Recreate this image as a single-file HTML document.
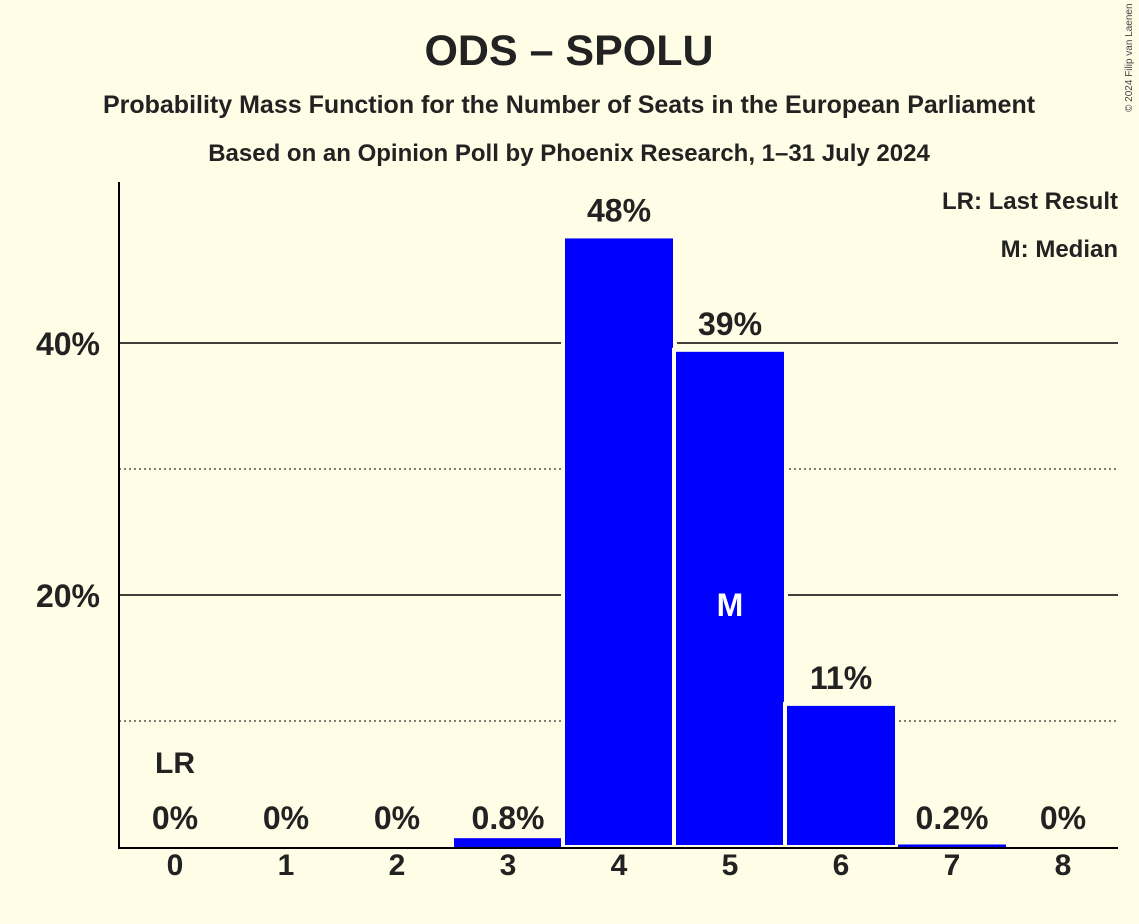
<!DOCTYPE html>
<html><head><meta charset="utf-8"><style>
body{margin:0;background:#fffde6;}
svg{display:block;font-family:"Liberation Sans",sans-serif;font-weight:bold;}
</style></head><body>
<svg id="c" width="1139" height="924" viewBox="0 0 1139 924">
<rect width="1139" height="924" fill="#fffde6"/>
<text x="569" y="65" text-anchor="middle" font-size="43" fill="#222">ODS – SPOLU</text>
<text x="569" y="113" text-anchor="middle" font-size="25" fill="#222">Probability Mass Function for the Number of Seats in the European Parliament</text>
<text x="569" y="161" text-anchor="middle" font-size="24" fill="#222">Based on an Opinion Poll by Phoenix Research, 1–31 July 2024</text>
<text x="1132" y="112" font-size="10" font-weight="normal" fill="#444" transform="rotate(-90 1132 112)">© 2024 Filip van Laenen</text>
<text x="1118" y="209" text-anchor="end" font-size="24" fill="#222">LR: Last Result</text>
<text x="1118" y="257" text-anchor="end" font-size="24" fill="#222">M: Median</text>
<g id="grid"></g><g id="bars"></g><g id="labels"></g>
<line x1="119" y1="182" x2="119" y2="848" stroke="#000" stroke-width="2"/>
<line x1="118" y1="848" x2="1118" y2="848" stroke="#000" stroke-width="2"/>
</svg>
<script>
const categories=[0,1,2,3,4,5,6,7,8];
const values=[0,0,0,0.7,48.3,39.3,11.2,0.2,0];
const valueLabels=["0%","0%","0%","0.8%","48%","39%","11%","0.2%","0%"];
const yTicks=[10,20,30,40];
const yTickLabels=["","20%","","40%"];
const lastResult=0, median=5;
const NS="http://www.w3.org/2000/svg";
const y=v=>847-v*12.6;
const x=i=>175+111*i;
const bw=108;
function mk(t,a,p){const e=document.createElementNS(NS,t);for(const k in a)e.setAttribute(k,a[k]);document.getElementById(p).appendChild(e);return e;}
yTicks.forEach((t,i)=>{
  const l=mk('line',{x1:119,x2:1118,y1:y(t),y2:y(t),stroke:'#000','stroke-width':t%20?1:1.5,'stroke-dasharray':t%20?'2,3':'none'},'grid');
  
  
  if(yTickLabels[i]){const tx=mk('text',{x:100,y:y(t)+12,'text-anchor':'end','font-size':32,fill:'#222'},'labels');tx.textContent=yTickLabels[i];
  
  }
});
categories.forEach((c,i)=>{
  const h=values[i]*12.6;
  const r=mk('rect',{x:x(i)-bw/2-2,y:y(values[i])-2,width:bw+4,height:h+2,fill:'#0000ff',stroke:'#fffde6','stroke-width':values[i]>1?4:0},'bars');
  
  
  if(values[i]<=1){r.setAttribute('x',x(i)-bw/2);r.setAttribute('y',y(values[i]));r.setAttribute('width',bw);r.setAttribute('height',Math.max(h,0));}
  const v=mk('text',{x:x(i),y:y(values[i])-17,'text-anchor':'middle','font-size':32,fill:'#222'},'labels');v.textContent=valueLabels[i];
  if(values[i]<2)v.setAttribute('y',829);
  
  
  const xl=mk('text',{x:x(i),y:875,'text-anchor':'middle','font-size':30,fill:'#222'},'labels');xl.textContent=c;
  
  
});
const lr=mk('text',{x:x(lastResult),y:773,'text-anchor':'middle','font-size':30,fill:'#222'},'labels');lr.textContent='LR';


const m=mk('text',{x:x(median),y:616,'text-anchor':'middle','font-size':32,fill:'#fff'},'labels');m.textContent='M';


</script>
</body></html>
